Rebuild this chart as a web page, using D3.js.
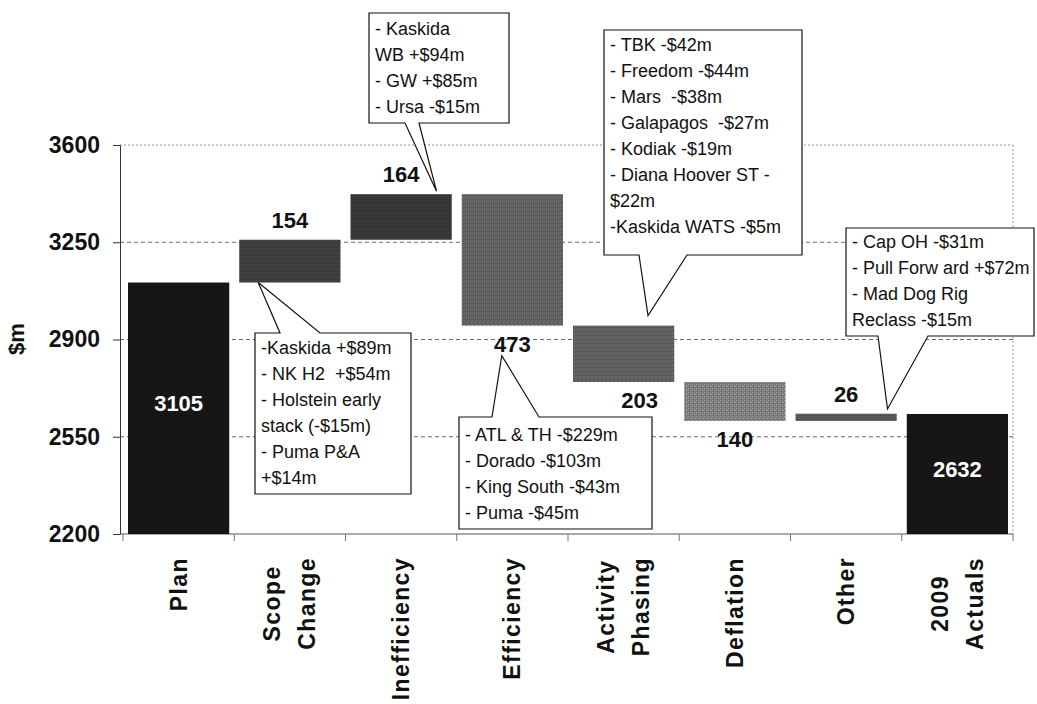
<!DOCTYPE html>
<html>
<head>
<meta charset="utf-8">
<script src="https://cdn.jsdelivr.net/npm/d3@7"></script>
<style>
  html, body { margin: 0; padding: 0; background: #fff; }
  svg { display: block; }
  text { font-family: "Liberation Sans", Arial, Helvetica, sans-serif; }
</style>
</head>
<body>
<svg id="chart" width="1037" height="704"></svg>
<script>
// ---- data ----
const categories = ["Plan", "Scope Change", "Inefficiency", "Efficiency",
                    "Activity Phasing", "Deflation", "Other", "2009 Actuals"];
const labelLines = [["Plan"], ["Scope", "Change"], ["Inefficiency"], ["Efficiency"],
                    ["Activity", "Phasing"], ["Deflation"], ["Other"], ["2009", "Actuals"]];
const values = [3105, 154, 164, -473, -203, -140, 26, 2632];
const isTotal = [true, false, false, false, false, false, false, true];
const yTicks = [2200, 2550, 2900, 3250, 3600];

// breakdown notes per step
const notesScope = ["-Kaskida +$89m", "- NK H2  +$54m", "- Holstein early", "stack (-$15m)", "- Puma P&A", "+$14m"];
const notesIneff = ["- Kaskida", "WB +$94m", "- GW +$85m", "- Ursa -$15m"];
const notesEff = ["- ATL & TH -$229m", "- Dorado -$103m", "- King South -$43m", "- Puma -$45m"];
const notesPhasing = ["- TBK -$42m", "- Freedom -$44m", "- Mars  -$38m", "- Galapagos  -$27m",
                      "- Kodiak -$19m", "- Diana Hoover ST -", "$22m", "-Kaskida WATS -$5m"];
const notesOther = ["- Cap OH -$31m", "- Pull Forw ard +$72m", "- Mad Dog Rig", "Reclass -$15m"];

// ---- waterfall geometry from the values ----
let running = 0;
const steps = categories.map((c, i) => {
  let start, end;
  if (isTotal[i]) { start = 2200; end = values[i]; running = values[i]; }
  else { start = running; end = running + values[i]; running = end; }
  return { cat: c, i, value: values[i], start, end, total: isTotal[i] };
});

const fills = ["#161616", "#3e3e3e", "#363636", "#626262", "#606060", "#808080", "#585858", "#161616"];

const svg = d3.select("#chart");
const plotLeft = 120, plotRight = 1013, plotTop = 145, plotBottom = 534;

const x = d3.scaleBand().domain(categories).range([plotLeft + 3, plotRight])
  .paddingInner(0.09).paddingOuter(0.045);
const y = d3.scaleLinear().domain([2200, 3600]).range([plotBottom, plotTop]);

// halftone-like fills
const defs = svg.append("defs");
fills.forEach((f, i) => {
  const c = d3.color(f);
  const p = defs.append("pattern").attr("id", "tex" + i)
    .attr("patternUnits", "userSpaceOnUse").attr("width", 4).attr("height", 4);
  p.append("rect").attr("width", 4).attr("height", 4).attr("fill", f);
  p.append("rect").attr("x", 0).attr("y", 0).attr("width", 1).attr("height", 1).attr("fill", c.brighter(0.7));
  p.append("rect").attr("x", 2).attr("y", 2).attr("width", 1).attr("height", 1).attr("fill", c.brighter(0.7));
  p.append("rect").attr("x", 1).attr("y", 0).attr("width", 1).attr("height", 4).attr("fill", c.darker(0.5)).attr("opacity", 0.5);
  p.append("rect").attr("x", 0).attr("y", 3).attr("width", 4).attr("height", 1).attr("fill", c.darker(0.5)).attr("opacity", 0.5);
});

// ---- plot frame and grid ----
svg.append("line").attr("x1", plotLeft).attr("x2", plotRight).attr("y1", y(3600)).attr("y2", y(3600))
  .attr("stroke", "#999").attr("stroke-dasharray", "2,2");
svg.append("line").attr("x1", plotRight).attr("x2", plotRight).attr("y1", y(3600)).attr("y2", y(2200))
  .attr("stroke", "#999").attr("stroke-dasharray", "2,2");
svg.append("g").selectAll("line").data([2550, 2900, 3250]).join("line")
  .attr("x1", plotLeft).attr("x2", plotRight)
  .attr("y1", d => y(d)).attr("y2", d => y(d))
  .attr("stroke", "#6a6a6a").attr("stroke-dasharray", "4,3");

// ---- axes ----
const yAxis = svg.append("g").attr("transform", `translate(${plotLeft},0)`)
  .call(d3.axisLeft(y).tickValues(yTicks).tickSize(7).tickPadding(13).tickFormat(d3.format("d")));
yAxis.select(".domain").attr("stroke", "#333");
yAxis.selectAll(".tick line").attr("stroke", "#333");
yAxis.selectAll("text").attr("font-size", 23).attr("font-weight", "bold").attr("fill", "#111")
  .style("font-family", '"Liberation Sans", Arial, sans-serif');

svg.append("line").attr("x1", plotLeft).attr("x2", plotRight).attr("y1", plotBottom).attr("y2", plotBottom)
  .attr("stroke", "#555");
const boundaries = d3.range(categories.length + 1).map(k => x.range()[0] + k * x.step());
svg.append("g").selectAll("line").data(boundaries).join("line")
  .attr("x1", d => d).attr("x2", d => d).attr("y1", plotBottom).attr("y2", plotBottom + 7)
  .attr("stroke", "#777");

svg.append("text")
  .attr("transform", `translate(24,339) rotate(-90)`)
  .attr("text-anchor", "middle").attr("font-size", 22).attr("font-weight", "bold")
  .attr("fill", "#111").text("$m");

// ---- bars ----
svg.append("g").selectAll("rect").data(steps).join("rect")
  .attr("x", d => x(d.cat)).attr("width", x.bandwidth())
  .attr("y", d => y(Math.max(d.start, d.end)))
  .attr("height", d => Math.abs(y(d.start) - y(d.end)))
  .attr("fill", d => `url(#tex${d.i})`);

// ---- value labels ----
const labelShift = { "Activity Phasing": 16 };
svg.append("g").selectAll("text").data(steps).join("text")
  .attr("x", d => x(d.cat) + x.bandwidth() / 2 + (labelShift[d.cat] || 0))
  .attr("y", d => {
    if (d.total) return (y(d.start) + y(d.end)) / 2 + 3;
    if (d.value > 0) return y(d.end) - 12;
    return y(d.end) + 26;
  })
  .attr("text-anchor", "middle").attr("font-size", 22).attr("font-weight", "bold")
  .attr("fill", d => d.total ? "#fff" : "#111")
  .text(d => Math.abs(d.value));

// ---- category labels (rotated, lines centred on each other) ----
const catG = svg.append("g");
steps.forEach((d, i) => {
  const lines = labelLines[i];
  const cx = x(d.cat) + x.bandwidth() / 2;
  const g = catG.append("g");
  const texts = lines.map((t, k) => g.append("text")
    .attr("font-size", 23).attr("font-weight", "bold").attr("letter-spacing", 1.4)
    .attr("fill", "#111").attr("text-anchor", "middle").attr("dy", "0.35em").text(t));
  const maxLen = d3.max(texts, t => t.node().getComputedTextLength());
  texts.forEach((t, k) => {
    const lx = cx + (k - (lines.length - 1) / 2) * 35;
    t.attr("transform", `translate(${lx},${557 + maxLen / 2}) rotate(-90)`);
  });
});

// ---- callouts ----
function callout(box, base, tip, lines, firstLine) {
  const { x0, y0, w, h } = box;
  let path;
  if (tip[1] > y0 + h) {
    path = `M${x0},${y0}H${x0 + w}V${y0 + h}H${base[1]}L${tip[0]},${tip[1]}L${base[0]},${y0 + h}H${x0}Z`;
  } else {
    path = `M${x0},${y0}H${base[0]}L${tip[0]},${tip[1]}L${base[1]},${y0}H${x0 + w}V${y0 + h}H${x0}Z`;
  }
  const g = svg.append("g");
  g.append("path").attr("d", path).attr("fill", "#fff").attr("stroke", "#111").attr("stroke-width", 1.2)
    .attr("stroke-linejoin", "miter");
  g.selectAll("text").data(lines).join("text")
    .attr("x", x0 + 6).attr("y", (t, k) => y0 + firstLine + k * 26)
    .attr("font-size", 18).attr("fill", "#111")
    .style("white-space", "pre")
    .text(t => t);
}

const xs = c => x(c);
callout({ x0: 255, y0: 333, w: 156, h: 161 }, [280, 320],
  [xs("Scope Change") + 19, y(3105)], notesScope, 21);
callout({ x0: 369, y0: 13, w: 140, h: 110 }, [405, 419],
  [xs("Inefficiency") + 86, y(3105 + 154 + 164) - 3], notesIneff, 22);
callout({ x0: 604, y0: 30, w: 198, h: 225 }, [639, 687],
  [xs("Activity Phasing") + 75, y(3105 + 154 + 164 - 473) - 10], notesPhasing, 21);
callout({ x0: 846, y0: 228, w: 188, h: 108 }, [878, 928],
  [xs("Other") + 92, y(2632) - 5], notesOther, 20);
callout({ x0: 459, y0: 417, w: 193, h: 112 }, [492, 539],
  [xs("Efficiency") + 40, y(3105 + 154 + 164 - 473) + 30], notesEff, 24);
</script>
</body>
</html>
